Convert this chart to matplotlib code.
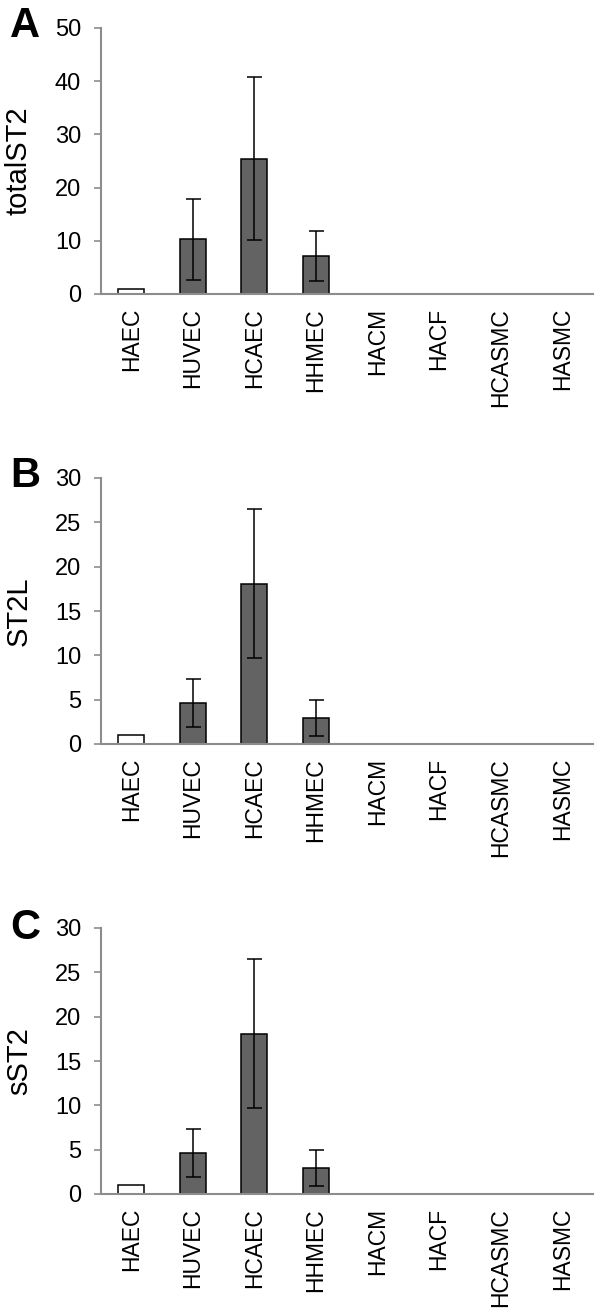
import numpy as np
import matplotlib
matplotlib.use("Agg")
import matplotlib.pyplot as plt

plt.rcParams["font.family"] = ["Liberation Sans", "DejaVu Sans"]

# ── Data ─────────────────────────────────────────────────────────────────────
CELLS = ["HAEC", "HUVEC", "HCAEC", "HHMEC", "HACM", "HACF", "HCASMC", "HASMC"]

total_mean = [1.0, 10.3, 25.4, 7.2, 0, 0, 0, 0]
total_err  = [0, 7.6, 15.3, 4.7, 0, 0, 0, 0]

st2l_mean = [1.0, 4.6, 18.1, 2.9, 0, 0, 0, 0]
st2l_err  = [0, 2.7, 8.4, 2.05, 0, 0, 0, 0]

sst2_mean = [1.0, 4.6, 18.1, 2.9, 0, 0, 0, 0]
sst2_err  = [0, 2.7, 8.4, 2.05, 0, 0, 0, 0]

PANELS = [
    ("A", "totalST2", total_mean, total_err, 50, 10),
    ("B", "ST2L",     st2l_mean,  st2l_err,  30, 5),
    ("C", "sST2",     sst2_mean,  sst2_err,  30, 5),
]

AXIS_GRAY = "#8c8c8c"
DARK = "#636363"

W, H = 601, 1313
fig = plt.figure(figsize=(W / 100, H / 100), dpi=100)

left, right = 100.5 / W, 593 / W
ax_h = 266 / H
zero_px = [294, 744, 1194]
letter_top = [6, 456, 908]

x = np.arange(len(CELLS))
for (letter, ylabel, mean, err, ymax, step), z, lt in zip(PANELS, zero_px, letter_top):
    ax = fig.add_axes([left, 1 - z / H, right - left, ax_h])
    colors = ["white"] + [DARK] * (len(CELLS) - 1)
    ax.bar(x, mean, 0.42, color=colors, edgecolor="black", linewidth=1.1, zorder=2)
    yerr = np.array(err, dtype=float)
    m = yerr > 0
    ax.errorbar(x[m], np.array(mean)[m], yerr=yerr[m], fmt="none",
                ecolor="black", elinewidth=1.1, capsize=5.4, capthick=1.1, zorder=3)
    ax.set_xlim(-0.5, len(CELLS) - 0.5)
    ax.set_ylim(0, ymax)
    ax.set_yticks(np.arange(0, ymax + 1, step))
    ax.set_xticks(x)
    ax.set_xticklabels(CELLS, rotation=90, fontsize=16.5)
    ax.tick_params(axis="x", length=0, pad=10)
    ax.tick_params(axis="y", length=5, width=1.2, color=AXIS_GRAY,
                   labelsize=17, pad=9)
    for s in ["top", "right"]:
        ax.spines[s].set_visible(False)
    for s in ["left", "bottom"]:
        ax.spines[s].set_color(AXIS_GRAY)
        ax.spines[s].set_linewidth(1.5)
    ax.set_ylabel(ylabel, fontsize=21)
    # right edge of the rotated label sits ~33 px from the figure edge
    ax.yaxis.set_label_coords((33 - 100.5) / 492.5, 0.5)
    fig.text(10 / W, 1 - lt / H, letter, fontsize=30, fontweight="bold",
             ha="left", va="top")

fig.savefig("out.png", dpi=100)
